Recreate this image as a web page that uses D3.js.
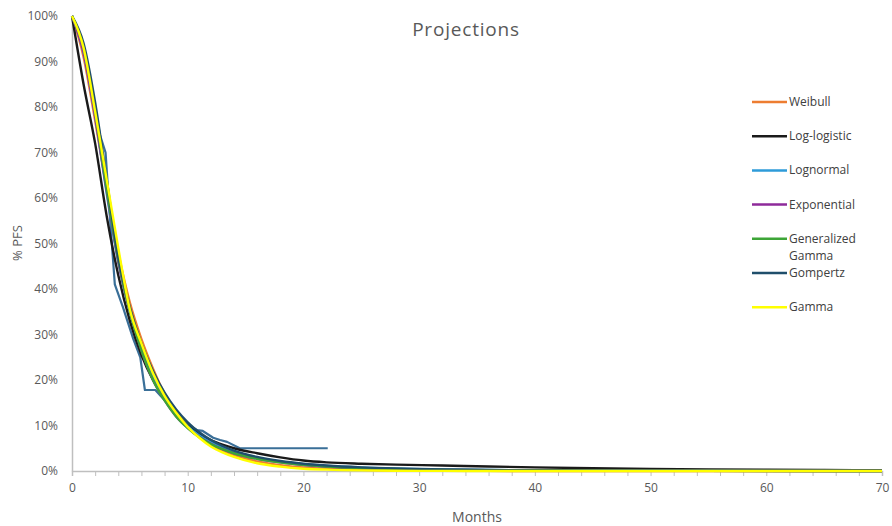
<!DOCTYPE html>
<html>
<head>
<meta charset="utf-8">
<script src="https://cdn.jsdelivr.net/npm/d3@7"></script>
<style>
  html, body { margin: 0; padding: 0; background: #ffffff; }
  svg { display: block; font-family: "Open Sans", "Noto Sans", sans-serif; }
</style>
</head>
<body>
<svg id="chart" width="892" height="526"></svg>
<script>
// Months at which the fitted survival curves are tabulated
const modelMonths = [0,1,2,3,4,5,6,7,8,9,10,11,12,13,14,16,18,20,22,25,28,32,36,40,45,50,55,60,65,70];

// Projected progression-free survival (fraction) per parametric model
const weibull     = [1.00,0.91,0.77,0.62,0.48,0.37,0.29,0.225,0.17,0.13,0.10,0.076,0.058,0.045,0.035,0.021,0.013,0.008,0.005,0.0025,0.0012,0.0005,0.0002,0.0001,0,0,0,0,0,0];
const logLogistic = [1.00,0.85,0.72,0.56,0.43,0.33,0.255,0.20,0.16,0.125,0.10,0.082,0.068,0.058,0.050,0.039,0.030,0.023,0.019,0.016,0.014,0.012,0.0098,0.008,0.0062,0.0047,0.0036,0.0028,0.0022,0.0018];
const lognormal   = [1.00,0.92,0.78,0.61,0.46,0.35,0.27,0.205,0.16,0.125,0.098,0.078,0.063,0.051,0.042,0.029,0.021,0.015,0.011,0.0075,0.0052,0.0033,0.0022,0.0015,0.001,0.0006,0.0004,0.0003,0.0002,0.0001];
const exponential = [1.00,0.92,0.78,0.615,0.46,0.35,0.265,0.20,0.156,0.12,0.095,0.075,0.06,0.048,0.039,0.027,0.019,0.013,0.0095,0.006,0.004,0.0025,0.0015,0.001,0.0005,0.0003,0.0002,0.0001,0,0];
const genGamma    = [1.00,0.93,0.79,0.62,0.465,0.35,0.265,0.20,0.155,0.12,0.094,0.074,0.059,0.048,0.039,0.027,0.019,0.0135,0.0098,0.0065,0.0043,0.0026,0.0016,0.001,0.0006,0.0003,0.0002,0.0001,0,0];
const gompertz    = [1.00,0.94,0.81,0.64,0.47,0.36,0.28,0.22,0.172,0.135,0.107,0.085,0.068,0.055,0.045,0.031,0.022,0.016,0.012,0.008,0.0055,0.0035,0.0022,0.0014,0.0008,0.0005,0.0003,0.0002,0.0001,0];
const gamma       = [1.00,0.93,0.79,0.64,0.49,0.355,0.28,0.215,0.165,0.128,0.097,0.073,0.054,0.041,0.031,0.017,0.0095,0.005,0.003,0.0013,0.0006,0.0002,0.0001,0,0,0,0,0,0,0];

// Observed Kaplan-Meier estimate
const kmMonths   = [0,0.5,1,1.5,2,2.4,2.9,3.3,3.7,4.4,5.3,5.9,6.3,7.2,8.2,9.1,9.9,10.8,11.3,12.2,12.8,13.4,14.5,22.1];
const kmSurvival = [1.00,0.97,0.93,0.87,0.80,0.74,0.70,0.55,0.41,0.36,0.29,0.25,0.178,0.178,0.15,0.127,0.105,0.09,0.088,0.073,0.068,0.064,0.05,0.05];

const seriesNames  = ["Weibull","Log-logistic","Lognormal","Exponential","Generalized Gamma","Gompertz","Gamma"];
const seriesColors = ["#ED7D31","#1a1a1a","#2E9BD9","#8E2A9A","#3DA537","#1F4E6B","#FFFF00"];
const seriesValues = [weibull, logLogistic, lognormal, exponential, genGamma, gompertz, gamma];
const kmColor = "#3A6F98";

const xTickLabels = [0,10,20,30,40,50,60,70];
const yTickLabels = [0,0.1,0.2,0.3,0.4,0.5,0.6,0.7,0.8,0.9,1.0];

const svg = d3.select("#chart");
const margin = {left: 72, right: 10, top: 16, bottom: 55};
const W = 892, H = 526;

const x = d3.scaleLinear().domain([0, 70]).range([margin.left, W - margin.right]);
const y = d3.scaleLinear().domain([0, 1]).range([H - margin.bottom, margin.top]);

const axisColor = "#BFBFBF";
const labelColor = "#595959";

// Title
svg.append("text")
  .attr("x", 466).attr("y", 36)
  .attr("text-anchor", "middle")
  .attr("font-size", 19)
  .attr("letter-spacing", 0.8)
  .attr("fill", labelColor)
  .text("Projections");

// Y axis: line plus percentage labels
const yAxis = svg.append("g")
  .attr("transform", `translate(${margin.left},0)`)
  .call(d3.axisLeft(y).tickValues(yTickLabels).tickFormat(d3.format(".0%")).tickSize(0).tickPadding(14));
yAxis.select(".domain").attr("stroke", axisColor).attr("stroke-width", 1.5);
yAxis.selectAll("text").attr("fill", labelColor).attr("font-size", 12).attr("font-family", "Open Sans, sans-serif");

// X axis: line, minor ticks every 2 months, labels every 10
const xAxisTicks = svg.append("g")
  .attr("transform", `translate(0,${y(0)})`)
  .call(d3.axisBottom(x).tickValues(d3.range(0, 71, 2)).tickSize(5).tickFormat(""));
xAxisTicks.select(".domain").attr("stroke", axisColor).attr("stroke-width", 1.5);
xAxisTicks.selectAll(".tick line").attr("stroke", axisColor);

const xAxisLabels = svg.append("g")
  .attr("transform", `translate(0,${y(0)})`)
  .call(d3.axisBottom(x).tickValues(xTickLabels).tickSize(0).tickPadding(12));
xAxisLabels.select(".domain").remove();
xAxisLabels.selectAll("text").attr("fill", labelColor).attr("font-size", 12).attr("font-family", "Open Sans, sans-serif");

// Axis titles
svg.append("text")
  .attr("x", 477).attr("y", 522)
  .attr("text-anchor", "middle")
  .attr("font-size", 14)
  .attr("fill", labelColor)
  .text("Months");

svg.append("text")
  .attr("transform", `translate(22,243) rotate(-90)`)
  .attr("text-anchor", "middle")
  .attr("font-size", 13)
  .attr("fill", labelColor)
  .text("% PFS");

// Curves
const modelLine = d3.line()
  .x((d, i) => x(modelMonths[i]))
  .y(d => y(d))
  .curve(d3.curveMonotoneX);

const kmLine = d3.line()
  .x((d, i) => x(kmMonths[i]))
  .y(d => y(d));

const plot = svg.append("g");

plot.append("path")
  .datum(kmSurvival)
  .attr("d", kmLine)
  .attr("fill", "none")
  .attr("stroke", kmColor)
  .attr("stroke-width", 2.2)
  .attr("stroke-linejoin", "round");

seriesValues.forEach((vals, i) => {
  plot.append("path")
    .datum(vals)
    .attr("d", modelLine)
    .attr("fill", "none")
    .attr("stroke", seriesColors[i])
    .attr("stroke-width", 2.4)
    .attr("stroke-linejoin", "round");
});

// Legend
const legend = svg.append("g");
const legendTop = 102, legendStep = 34.2;
seriesNames.forEach((name, i) => {
  const ly = legendTop + i * legendStep;
  legend.append("line")
    .attr("x1", 752).attr("x2", 787)
    .attr("y1", ly).attr("y2", ly)
    .attr("stroke", seriesColors[i])
    .attr("stroke-width", 2.5);
  const parts = name === "Generalized Gamma" ? ["Generalized", "Gamma"] : [name];
  parts.forEach((p, j) => {
    legend.append("text")
      .attr("x", 789)
      .attr("y", ly + 4 + j * 17)
      .attr("font-size", 12)
      .attr("fill", "#404040")
      .text(p);
  });
});
</script>
</body>
</html>
